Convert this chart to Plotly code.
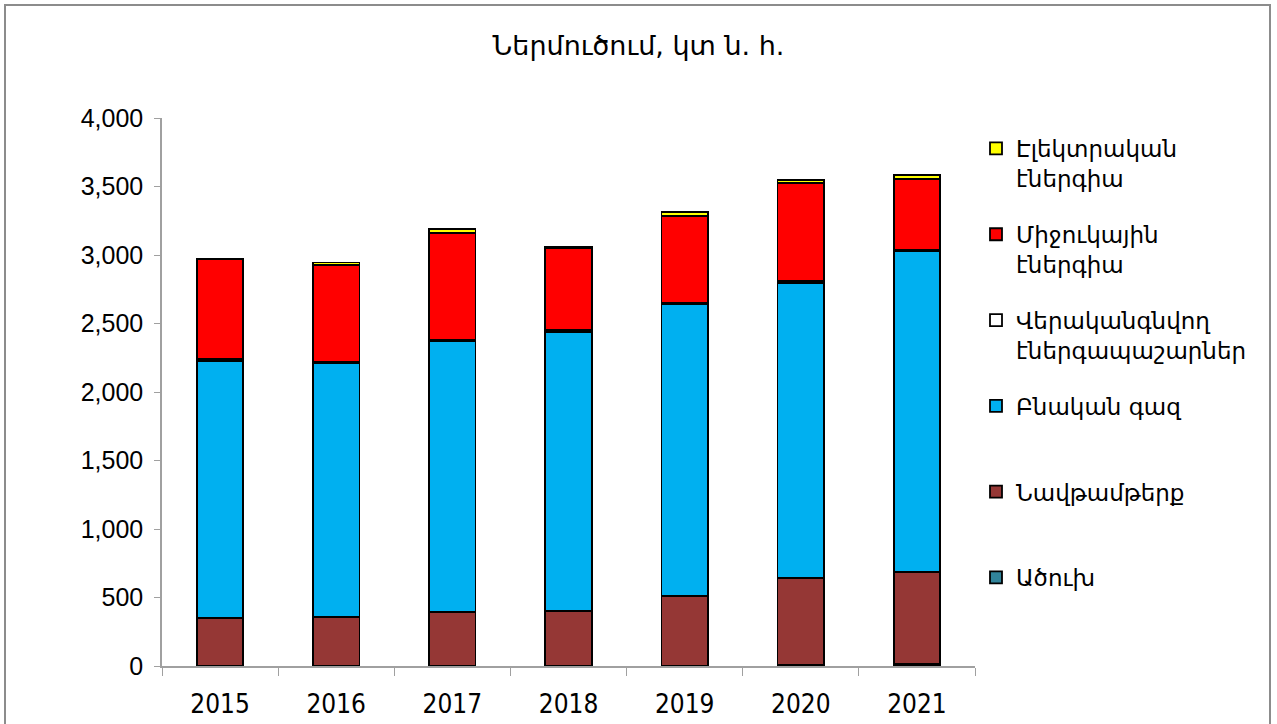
import plotly.graph_objects as go

# տարիներ
years = ['2015', '2016', '2017', '2018', '2019', '2020', '2021']

# Ներմուծում, կտ ն. հ. ըստ աղբյուրների
coal = [3, 3, 3, 3, 4, 10, 12]
oil = [345, 354, 394, 401, 507, 630, 672]
gas = [1880, 1852, 1975, 2036, 2129, 2158, 2343]
renewables = [10, 10, 10, 10, 10, 10, 10]
nuclear = [730, 708, 776, 599, 637, 715, 515]
electricity = [5, 18, 30, 12, 25, 25, 32]

series = [
    ('Ածուխ', coal, '#31849B'),
    ('Նավթամթերք', oil, '#953735'),
    ('Բնական գազ', gas, '#00B0F0'),
    ('Վերականգնվող<br>էներգապաշարներ', renewables, '#FFFFFF'),
    ('Միջուկային<br>էներգիա', nuclear, '#FF0000'),
    ('Էլեկտրական<br>էներգիա', electricity, '#FFFF00'),
]

fig = go.Figure()
for i, (name, vals, color) in enumerate(series):
    label = name if '<br>' in name else name + '<br> '
    fig.add_trace(go.Bar(
        x=years,
        y=vals,
        name=label,
        legendgroup=name,
        legendrank=len(series) - i,
        marker=dict(color=color, line=dict(color='black', width=1.8)),
    ))

# ֆոնի շրջանակ
fig.add_shape(
    type='rect', xref='paper', yref='paper',
    x0=(5 - 162) / 813, x1=(1270 - 162) / 813,
    y0=-0.3, y1=(666 - 5) / 548,
    line=dict(color='#8c8c8c', width=2), fillcolor='rgba(0,0,0,0)',
    layer='below',
)

fig.update_layout(
    width=1277,
    height=724,
    barmode='stack',
    bargap=0.6,
    plot_bgcolor='white',
    paper_bgcolor='white',
    margin=dict(l=162, r=302, t=118, b=58, autoexpand=False),
    title=dict(
        text='Ներմուծում, կտ ն. հ.',
        x=0.5, xref='container', xanchor='center',
        y=1 - 46 / 724, yref='container', yanchor='middle',
        font=dict(family='DejaVu Sans', size=27, color='black'),
    ),
    legend=dict(
        traceorder='grouped',
        xref='container', yref='container',
        x=976 / 1277, xanchor='left',
        y=1 - 127 / 724, yanchor='top',
        valign='top',
        tracegroupgap=23,
        maxheight=1,
        font=dict(family='DejaVu Sans', size=23, color='black'),
        bgcolor='rgba(0,0,0,0)',
    ),
)

fig.update_yaxes(
    range=[0, 4000],
    dtick=500,
    tickformat=',',
    showgrid=False,
    zeroline=False,
    showline=True,
    linecolor='#a0a0a0',
    linewidth=1.5,
    ticks='outside',
    ticklen=6,
    tickcolor='#a0a0a0',
    ticklabelstandoff=6,
    tickfont=dict(family='Liberation Sans', size=25, color='black'),
)

fig.update_xaxes(
    showgrid=False,
    showline=True,
    linecolor='#a0a0a0',
    linewidth=1.5,
    ticks='outside',
    tickson='boundaries',
    ticklen=8,
    tickcolor='#a0a0a0',
    ticklabelstandoff=14,
    tickfont=dict(family='Liberation Sans Narrow, DejaVu Sans Condensed', size=26, color='black'),
)

fig.write_html('out.html', config={'displayModeBar': False},
               post_script="document.body.style.margin='0';")
